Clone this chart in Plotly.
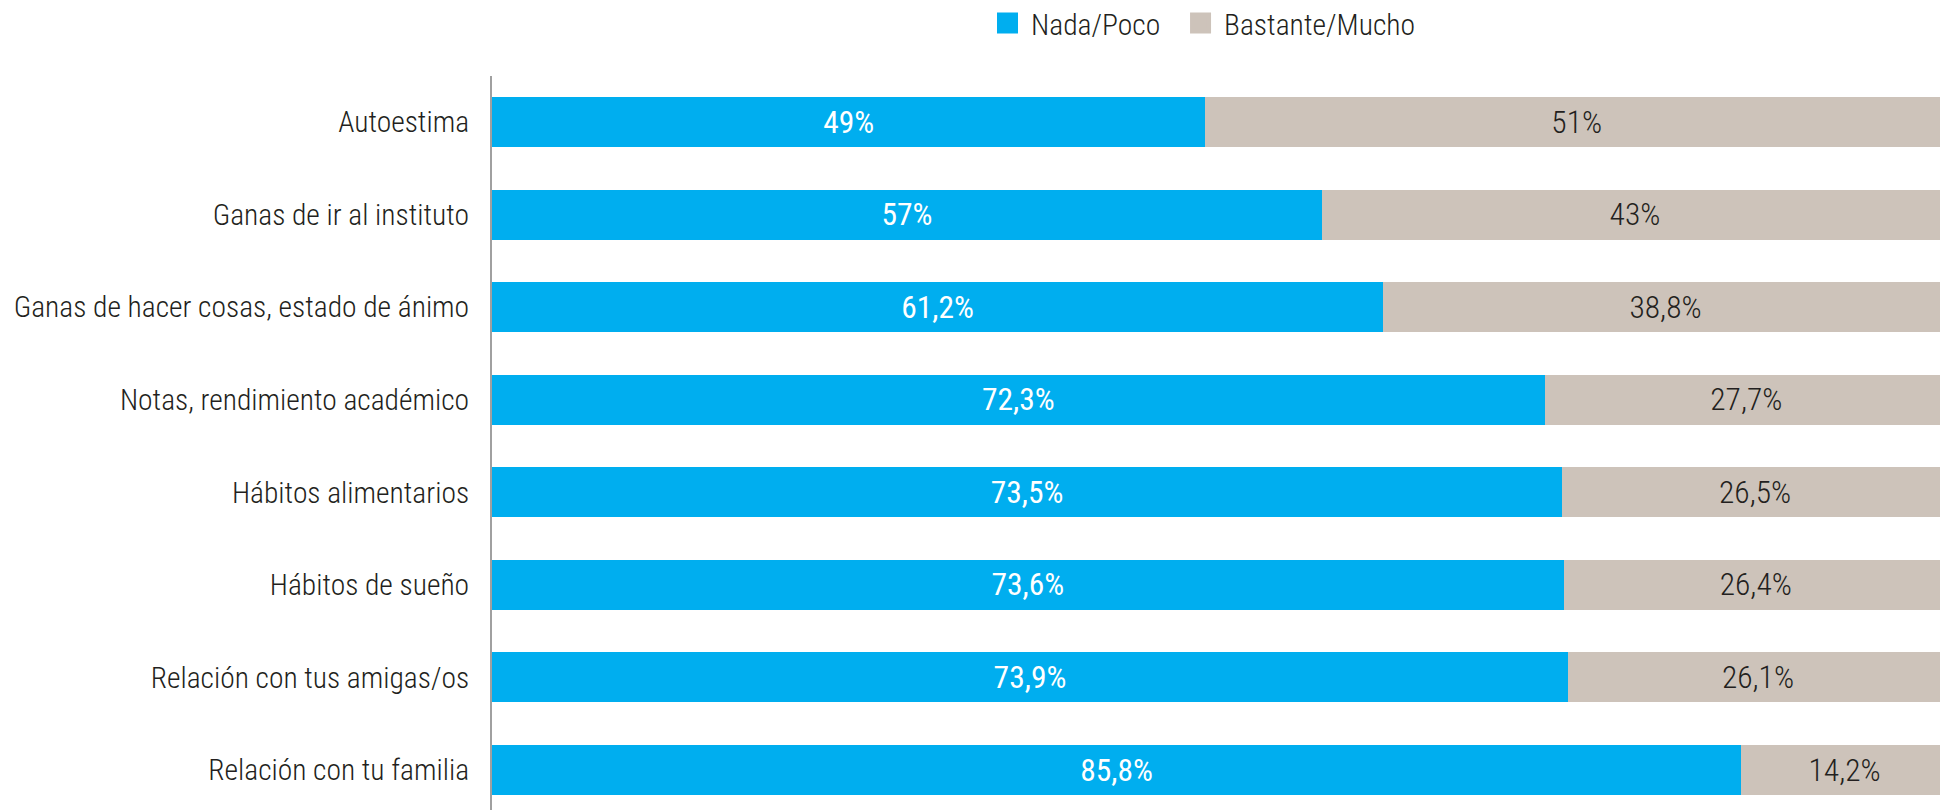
import plotly.graph_objects as go

categories = [
    "Autoestima",
    "Ganas de ir al instituto",
    "Ganas de hacer cosas, estado de ánimo",
    "Notas, rendimiento académico",
    "Hábitos alimentarios",
    "Hábitos de sueño",
    "Relación con tus amigas/os",
    "Relación con tu familia",
]
nada_poco = [49, 57, 61.2, 72.3, 73.5, 73.6, 73.9, 85.8]
bastante_mucho = [51, 43, 38.8, 27.7, 26.5, 26.4, 26.1, 14.2]

BLUE = "#00AEEF"
BEIGE = "#CDC3BA"
DARK = "#231F20"
FONT = "Roboto Condensed, Liberation Sans Narrow, DejaVu Sans Condensed, Arial Narrow, sans-serif"


def fmt(v):
    return f"{v:g}".replace(".", ",") + "%"


fig = go.Figure()
fig.add_trace(go.Bar(
    y=categories, x=nada_poco, orientation="h", name="Nada/Poco",
    marker=dict(color=BLUE, line=dict(width=0)),
    text=[fmt(v) for v in nada_poco], textposition="inside",
    insidetextanchor="middle",
    textfont=dict(color="white", size=31.5, family=FONT, weight=400),
    showlegend=False, hoverinfo="skip",
))
fig.add_trace(go.Bar(
    y=categories, x=bastante_mucho, orientation="h", name="Bastante/Mucho",
    marker=dict(color=BEIGE, line=dict(width=0)),
    text=[fmt(v) for v in bastante_mucho], textposition="inside",
    insidetextanchor="middle",
    textfont=dict(color=DARK, size=31.5, family=FONT, weight=300),
    showlegend=False, hoverinfo="skip",
))
# legend entries (one legend box each, to place them like the reference)
for name, col, lg in [("Nada/Poco", BLUE, "legend"), ("Bastante/Mucho", BEIGE, "legend2")]:
    fig.add_trace(go.Scatter(
        x=[None], y=[None], mode="markers", name=name, legend=lg,
        marker=dict(symbol="square", size=16, color=col, line=dict(color=col, width=5)),
        showlegend=True,
    ))

legend_style = dict(
    orientation="h", xanchor="left",
    yref="container", y=0.981, yanchor="middle",
    font=dict(size=29.6, family=FONT, color=DARK, weight=300),
    itemsizing="trace", itemwidth=37,
    bgcolor="rgba(0,0,0,0)",
)

# note: the page body has an 8px default margin, compensated below
fig.update_layout(
    width=1940, height=802,
    barmode="stack", bargap=0.46,
    margin=dict(l=484, r=0, t=68, b=0),
    paper_bgcolor="white", plot_bgcolor="white",
    font=dict(family=FONT, color=DARK, size=30, weight=300),
    legend=dict(x=0.3379, **legend_style),
    legend2=dict(x=0.4705, **legend_style),
    xaxis=dict(range=[0, 100], visible=False, fixedrange=True),
    yaxis=dict(
        categoryorder="array", categoryarray=categories,
        range=[7.432, -0.497], automargin=False,
        showline=True, linecolor="#A0A0A0", linewidth=2,
        ticks="", showgrid=False, zeroline=False,
        tickfont=dict(size=29.5, family=FONT, color=DARK, weight=300),
        ticklabelstandoff=15,
    ),
)

fig.write_html("out.html")
